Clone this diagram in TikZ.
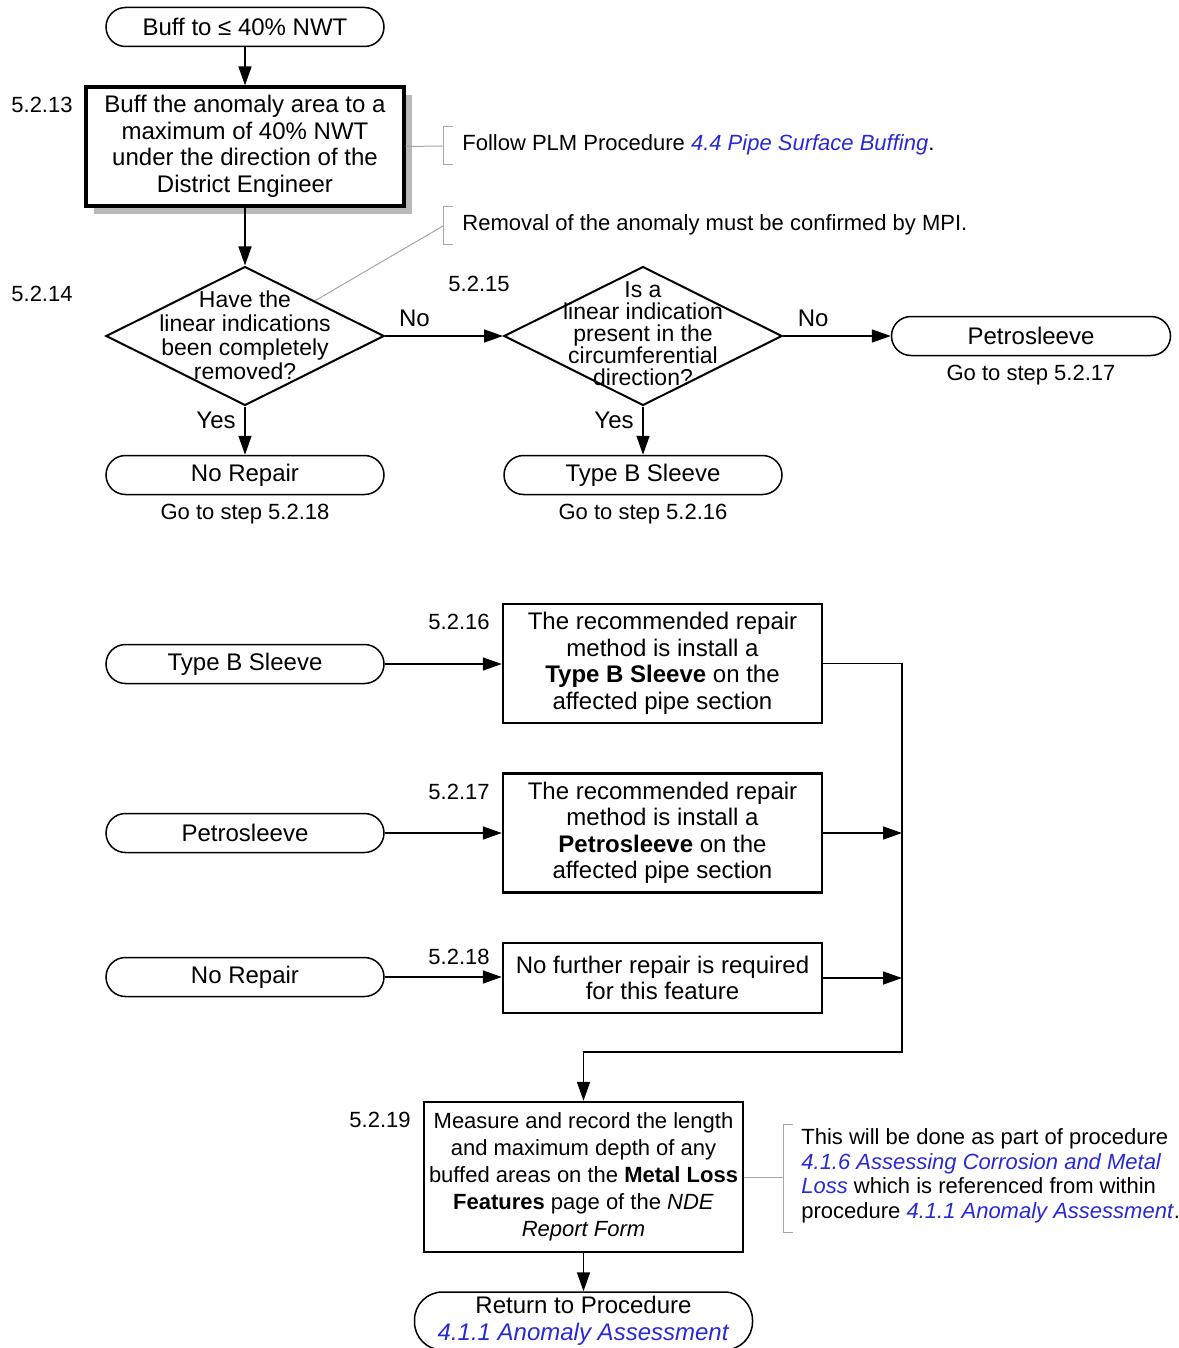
\documentclass[tikz,border=0pt]{standalone}
\usepackage{fontspec}
\setmainfont{Liberation Sans}
\usetikzlibrary{arrows.meta, shapes.geometric, shadows, positioning}
\definecolor{linkblue}{RGB}{40,40,215}
\newcommand{\lnk}[1]{\textcolor{linkblue}{\textit{#1}}}

\tikzset{
  txt/.style={font=\fontsize{12}{13.25}\selectfont},
  smalltxt/.style={font=\fontsize{11}{12.25}\selectfont},
  term/.style={txt, draw, line width=0.75pt, rounded corners=9.75pt,
    minimum width=139pt, minimum height=19.5pt, inner sep=0pt},
  proc/.style={txt, draw, line width=1.2pt, align=center, inner sep=0pt},
  dia/.style={diamond, draw, line width=1pt, minimum width=139pt,
    minimum height=69.5pt, inner sep=0pt},
  steplbl/.style={font=\fontsize{11}{13}\selectfont},
  arr/.style={-{Triangle[length=9.5pt,width=6.5pt]}, line width=0.75pt},
  brk/.style={gray!70, line width=0.5pt},
}

\begin{document}
\begin{tikzpicture}[x=0.5pt,y=-0.5pt]
  \useasboundingbox (0,0) rectangle (1178,1348);

  % Верхняя часть: полировка и проверка
  \node[term] (start) at (245,27) {Buff to ≤ 40\% NWT};
  \node[proc, line width=1.6pt, minimum width=159pt, minimum height=59.5pt,
    drop shadow={shadow xshift=4pt, shadow yshift=-4pt, fill=gray!55, opacity=1},
    fill=white] (buff) at (245,146.5)
    {Buff the anomaly area to a\\maximum of 40\% NWT\\under the direction of the\\District Engineer};
  \node[steplbl] (s13) at (42,105) {5.2.13};

  \node[dia] (removed) at (245,336) {};
  \node[align=center, font=\fontsize{11.5}{12}\selectfont] (removedtxt) at (245,335)
    {Have the\\linear indications\\been completely\\removed?};
  \node[steplbl] (s14) at (42,294) {5.2.14};

  \node[dia] (circ) at (643,336) {};
  \node[align=center, font=\fontsize{11.5}{11}\selectfont] (circtxt) at (643,334)
    {Is a\\linear indication\\present in the\\circumferential\\direction?};
  \node[steplbl] (s15) at (479,284) {5.2.15};

  \node[term, minimum width=139.5pt] (petroA) at (1031,336) {Petrosleeve};
  \node[steplbl, below=1pt of petroA] (gotoA) {Go to step 5.2.17};
  \node[term] (norepA) at (245,475) {No Repair};
  \node[steplbl, below=1pt of norepA] (gotoB) {Go to step 5.2.18};
  \node[term] (typebA) at (643,475) {Type B Sleeve};
  \node[steplbl, below=1pt of typebA] (gotoC) {Go to step 5.2.16};

  \draw[arr] (start) -- (buff);
  \draw[arr] (buff) -- (removed);
  \draw[arr] (removed) -- node[txt, pos=0.25, above=1pt] {No} (circ);
  \draw[arr] (circ) -- node[txt, pos=0.28, above=1pt] {No} (petroA);
  \draw[arr] (removed) -- node[txt, pos=0.28, left=1pt] {Yes} (norepA);
  \draw[arr] (circ) -- node[txt, pos=0.28, left=1pt] {Yes} (typebA);

  % Примечания со скобками
  \node[smalltxt, anchor=west, inner sep=0pt] (noteA) at (462,145)
    {Follow PLM Procedure \lnk{4.4 Pipe Surface Buffing}.};
  \coordinate (brA) at (443,146);
  \draw[brk] (buff.east) -- (brA);
  \draw[brk] (453,127) -- (443,127) -- (443,165) -- (453,165);

  \node[smalltxt, anchor=west, inner sep=0pt] (noteB) at (462,225)
    {Removal of the anomaly must be confirmed by MPI.};
  \coordinate (brB) at (443,226);
  \draw[brk] (removed.north east) -- (brB);
  \draw[brk] (453,207) -- (443,207) -- (443,245) -- (453,245);

  % Нижняя часть: варианты ремонта
  \node[term] (typebB) at (245,664) {Type B Sleeve};
  \node[proc, minimum width=159.5pt, minimum height=59.5pt] (sleeve) at (662.5,663.5)
    {The recommended repair\\method is install a\\\textbf{Type B Sleeve} on the\\affected pipe section};
  \node[steplbl] (s16) at (459,622) {5.2.16};

  \node[term] (petroB) at (245,833) {Petrosleeve};
  \node[proc, minimum width=159.5pt, minimum height=59.5pt] (petro) at (662.5,833)
    {The recommended repair\\method is install a\\\textbf{Petrosleeve} on the\\affected pipe section};
  \node[steplbl] (s17) at (459,792) {5.2.17};

  \node[term] (norepB) at (245,977) {No Repair};
  \node[proc, minimum width=159.5pt, minimum height=35pt] (norep) at (662.5,978)
    {No further repair is required\\for this feature};
  \node[steplbl] (s18) at (459,957) {5.2.18};

  \draw[arr] (typebB) -- (typebB -| sleeve.west);
  \draw[arr] (petroB) -- (petroB -| petro.west);
  \draw[arr] (norepB) -- (norepB -| norep.west);

  \node[proc, font=\fontsize{11}{13.5}\selectfont, minimum width=159.5pt,
    minimum height=75pt] (measure) at (583.5,1177)
    {Measure and record the length\\and maximum depth of any\\buffed areas on the \textbf{Metal Loss}\\\textbf{Features} page of the \textit{NDE}\\\textit{Report Form}};
  \node[steplbl] (s19) at (380,1120) {5.2.19};

  \coordinate (jn) at (902,1052);
  \draw[arr] (sleeve.east) -| (jn) -| (measure.north);
  \draw[arr] (petro.east) -- (petro.east -| jn);
  \draw[arr] (norep.east) -- (norep.east -| jn);

  \node[term, minimum width=169pt, minimum height=29pt, rounded corners=14pt,
    align=center] (ret) at (583.5,1321)
    {Return to Procedure\\\lnk{4.1.1 Anomaly Assessment}};
  \draw[arr] (measure) -- (ret);

  \node[smalltxt, anchor=west, inner sep=0pt, align=left] (noteC) at (801,1176)
    {This will be done as part of procedure\\
     \lnk{4.1.6 Assessing Corrosion and Metal}\\
     \lnk{Loss} which is referenced from within\\
     procedure \lnk{4.1.1 Anomaly Assessment}.};
  \coordinate (brC) at (783,1177);
  \draw[brk] (measure.east) -- (brC);
  \draw[brk] (793,1124) -- (783,1124) -- (783,1232) -- (793,1232);
\end{tikzpicture}
\end{document}
